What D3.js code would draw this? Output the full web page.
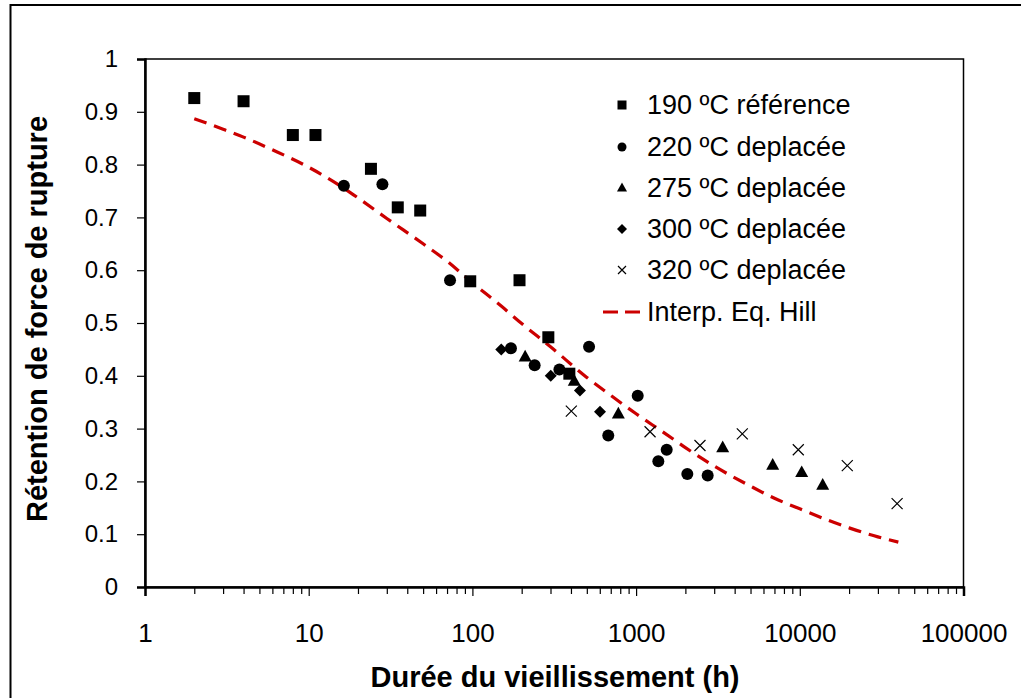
<!DOCTYPE html>
<html>
<head>
<meta charset="utf-8">
<script src="https://cdn.jsdelivr.net/npm/d3@7"></script>
<style>
  html, body { margin: 0; padding: 0; background: #fff; }
  svg { display: block; }
  text { font-family: "Liberation Sans", Arial, sans-serif; fill: #000; }
</style>
</head>
<body>
<svg id="chart" width="1021" height="698"></svg>
<script>
// Aging time (h) and retained breaking-strength fraction, per aging temperature
const t190 = [2, 4, 8, 11, 24, 35, 48, 97, 194, 291, 391];
const r190 = [0.926, 0.920, 0.856, 0.856, 0.792, 0.719, 0.713, 0.579, 0.581, 0.473, 0.404];

const t220 = [16.4, 28.2, 73, 172, 240, 340, 516, 676, 1023, 1367, 1538, 2055, 2737];
const r220 = [0.760, 0.763, 0.581, 0.452, 0.420, 0.412, 0.455, 0.287, 0.362, 0.238, 0.260, 0.214, 0.211];

const t275 = [210, 419, 779, 3380, 6830, 10270, 13800];
const r275 = [0.436, 0.390, 0.328, 0.264, 0.231, 0.217, 0.193];

const t300 = [150, 301, 454, 602];
const r300 = [0.450, 0.400, 0.372, 0.332];

const t320 = [402, 1217, 2456, 4454, 9790, 19500, 39300];
const r320 = [0.333, 0.294, 0.268, 0.290, 0.260, 0.230, 0.158];

// Hill-equation interpolation curve
const tHill = [2, 3, 4, 6, 10, 15, 20, 30, 50, 70, 100, 150, 200, 300, 500, 700, 1000, 1500, 2000, 3000, 5000, 7000, 10000, 15000, 20000, 30000, 40000];
const rHill = [0.887, 0.867, 0.852, 0.828, 0.795, 0.763, 0.737, 0.698, 0.650, 0.617, 0.576, 0.532, 0.499, 0.455, 0.397, 0.363, 0.328, 0.291, 0.264, 0.229, 0.191, 0.168, 0.148, 0.126, 0.112, 0.095, 0.085];

const legendLabels = ["190 \u00baC r\u00e9f\u00e9rence", "220 \u00baC deplac\u00e9e", "275 \u00baC deplac\u00e9e", "300 \u00baC deplac\u00e9e", "320 \u00baC deplac\u00e9e", "Interp. Eq. Hill"];
const xTicks = [1, 10, 100, 1000, 10000, 100000];
const yTicks = [0, 0.1, 0.2, 0.3, 0.4, 0.5, 0.6, 0.7, 0.8, 0.9, 1];

const svg = d3.select("#chart");
const L = 145, R = 963.5, T = 59, B = 587;

const x = d3.scaleLog().domain([1, 100000]).range([L, R]);
const y = d3.scaleLinear().domain([0, 1]).range([B, T]);

// outer frame
svg.append("rect").attr("x", 10.5).attr("y", 5).attr("width", 1100).attr("height", 1000)
  .attr("fill", "none").attr("stroke", "#000").attr("stroke-width", 2);

// plot box
svg.append("rect").attr("x", L).attr("y", T).attr("width", R - L).attr("height", B - T)
  .attr("fill", "none").attr("stroke", "#000").attr("stroke-width", 1.5);

// y axis
const yAxis = d3.axisLeft(y).tickValues(yTicks).tickSize(8).tickPadding(19)
  .tickFormat(d => d === 0 ? "0" : d === 1 ? "1" : d3.format(".1f")(d));
const gy = svg.append("g").attr("transform", `translate(${L},0)`).call(yAxis);
gy.select(".domain").attr("stroke-width", 2.5);
gy.selectAll(".tick line").attr("stroke-width", 1.2);
gy.selectAll(".tick text").style("font-size", "24px").style("font-family", "'Liberation Sans', Arial, sans-serif");

// x axis: minor ticks then labelled decades
const minor = [];
for (let e = 0; e < 5; e++) for (let k = 2; k <= 9; k++) minor.push(k * Math.pow(10, e));
const gxm = svg.append("g").attr("transform", `translate(0,${B})`)
  .call(d3.axisBottom(x).tickValues(minor).tickSize(7).tickFormat(""));
gxm.select(".domain").remove();
gxm.selectAll(".tick line").attr("stroke-width", 1.2);

const gx = svg.append("g").attr("transform", `translate(0,${B})`)
  .call(d3.axisBottom(x).tickValues(xTicks).tickSize(9).tickPadding(28).tickFormat(d3.format("d")));
gx.select(".domain").attr("stroke-width", 2.5);
gx.selectAll(".tick line").attr("stroke-width", 1.2);
gx.selectAll(".tick text").style("font-size", "26px").style("font-family", "'Liberation Sans', Arial, sans-serif");

// axis titles
svg.append("text").attr("x", 555).attr("y", 687).attr("text-anchor", "middle")
  .style("font-size", "29px").style("font-weight", "bold")
  .text("Dur\u00e9e du vieillissement (h)");
svg.append("text").attr("transform", "translate(47,319) rotate(-90)").attr("text-anchor", "middle")
  .style("font-size", "29px").style("font-weight", "bold")
  .text("R\u00e9tention de force de rupture");

// Hill curve
const line = d3.line().x(d => x(d[0])).y(d => y(d[1])).curve(d3.curveMonotoneX);
svg.append("path").datum(d3.zip(tHill, rHill)).attr("d", line)
  .attr("fill", "none").attr("stroke", "#cc0000").attr("stroke-width", 3.2)
  .attr("stroke-dasharray", "13,8");

// marker shapes
function drawMarker(g, kind, s) {
  if (kind === "square") {
    g.append("rect").attr("x", -s / 2).attr("y", -s / 2).attr("width", s).attr("height", s).attr("fill", "#000");
  } else if (kind === "circle") {
    g.append("circle").attr("r", s / 2).attr("fill", "#000");
  } else if (kind === "triangle") {
    const h = s * 0.9;
    g.append("path").attr("d", `M0,${-h * 0.6}L${s / 2},${h * 0.4}L${-s / 2},${h * 0.4}Z`).attr("fill", "#000");
  } else if (kind === "diamond") {
    const a = s / 2;
    g.append("path").attr("d", `M0,${-a}L${a},0L0,${a}L${-a},0Z`).attr("fill", "#000");
  } else if (kind === "cross") {
    const a = s / 2;
    g.append("path").attr("d", `M${-a},${-a}L${a},${a}M${a},${-a}L${-a},${a}`)
      .attr("stroke", "#000").attr("stroke-width", 1.2).attr("fill", "none");
  }
}

const series = [
  { t: t190, r: r190, kind: "square", size: 12, lsize: 9 },
  { t: t220, r: r220, kind: "circle", size: 12, lsize: 9 },
  { t: t275, r: r275, kind: "triangle", size: 13, lsize: 10 },
  { t: t300, r: r300, kind: "diamond", size: 12, lsize: 10 },
  { t: t320, r: r320, kind: "cross", size: 11, lsize: 8 }
];

series.forEach(s => {
  const g = svg.append("g");
  d3.zip(s.t, s.r).forEach(([t, r]) => {
    const m = g.append("g").attr("transform", `translate(${x(t)},${y(r)})`);
    drawMarker(m, s.kind, s.size);
  });
});

// legend
const legendY = [105, 147, 188, 229, 270, 312];
const lg = svg.append("g");
series.forEach((s, i) => {
  const m = lg.append("g").attr("transform", `translate(622,${legendY[i]})`);
  drawMarker(m, s.kind, s.lsize);
});
lg.append("line").attr("x1", 603).attr("x2", 641).attr("y1", legendY[5]).attr("y2", legendY[5])
  .attr("stroke", "#cc0000").attr("stroke-width", 3.2).attr("stroke-dasharray", "15,7");
legendLabels.forEach((lab, i) => {
  lg.append("text").attr("x", 647).attr("y", legendY[i]).attr("dy", "0.35em")
    .style("font-size", "27px").text(lab);
});
</script>
</body>
</html>
